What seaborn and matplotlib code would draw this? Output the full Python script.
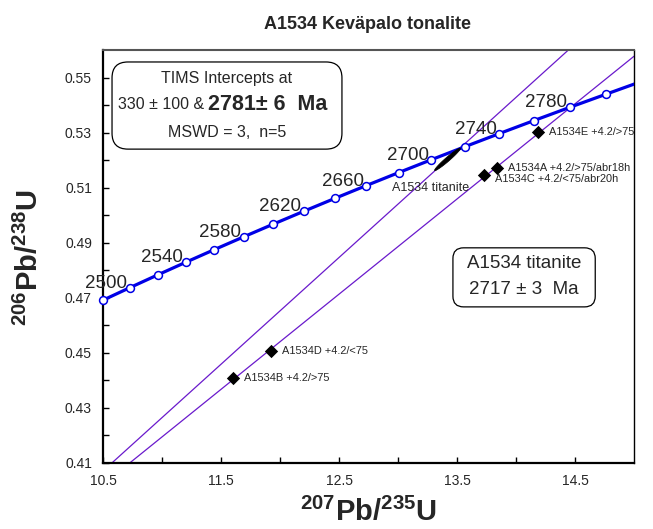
import numpy as np
import pandas as pd
import matplotlib
matplotlib.use("Agg")
import matplotlib.pyplot as plt
import seaborn as sns
from matplotlib.patches import FancyBboxPatch, Polygon
from matplotlib.ticker import FixedLocator

# --- Concordia (ages in Ma, with their 207Pb/235U and 206Pb/238U ratios) ---
conc_age = [2480, 2500, 2520, 2540, 2560, 2580, 2600, 2620, 2640,
            2660, 2680, 2700, 2720, 2740, 2760, 2780, 2800]
conc_207_235 = [10.5009, 10.7297, 10.9631, 11.2010, 11.4438, 11.6913,
                11.9437, 12.2012, 12.4638, 12.7316, 13.0048, 13.2834,
                13.5675, 13.8573, 14.1528, 14.4542, 14.7617]
conc_206_238 = [0.46916, 0.47373, 0.47831, 0.48290, 0.48751, 0.49213,
                0.49677, 0.50142, 0.50609, 0.51077, 0.51546, 0.52017,
                0.52489, 0.52963, 0.53438, 0.53915, 0.54393]
# curve continues past the last age tick (2820 Ma)
tail_207_235 = [15.0752]
tail_206_238 = [0.54876]
labelled_ages = [2500, 2540, 2580, 2620, 2660, 2700, 2740, 2780]

# --- Zircon fractions (TIMS) ---
frac_label = ["A1534A +4.2/>75/abr18h", "A1534B +4.2/>75",
              "A1534C +4.2/<75/abr20h", "A1534D +4.2/<75",
              "A1534E +4.2/>75/ Cabr"]
frac_207_235 = [13.836, 11.602, 13.732, 11.921, 14.189]
frac_206_238 = [0.5172, 0.4409, 0.5147, 0.4508, 0.5301]

# --- Titanite analysis: ratios, 2-sigma errors and error correlation ---
tit_207_235, tit_206_238 = 13.42, 0.5203
tit_err_207, tit_err_206, tit_rho = 0.11, 0.0041, 0.97

# --- Discordia: lower & upper intercepts 330 Ma and 2781 Ma ---
disc_x = [0.38403, 14.4695]
disc_y = [0.05252, 0.53939]
# Reference line from the origin through the titanite
ref_x = [0.0, tit_207_235]
ref_y = [0.0, tit_206_238]

x_ticks = [10.5, 11.5, 12.5, 13.5, 14.5]
y_ticks = [0.41, 0.43, 0.45, 0.47, 0.49, 0.51, 0.53, 0.55]

sns.set_theme(style="white")
plt.rcParams["font.family"] = ["Liberation Sans", "DejaVu Sans"]
plt.rcParams["mathtext.fontset"] = "custom"
plt.rcParams["mathtext.rm"] = "Liberation Sans"
plt.rcParams["mathtext.bf"] = "Liberation Sans:bold"

BLUE = "#0000e6"
PURPLE = "#6a1acc"

fig = plt.figure(figsize=(6.53, 5.29), dpi=100)
ax = fig.add_axes([103 / 653, 66 / 529, 531 / 653, 413 / 529])
ax.set_xlim(10.5, 15.0)
ax.set_ylim(0.41, 0.56)

# discordia lines
ax.axline((disc_x[0], disc_y[0]), (disc_x[1], disc_y[1]), color=PURPLE, lw=0.9, zorder=2)
ax.axline((ref_x[0], ref_y[0]), (ref_x[1], ref_y[1]), color=PURPLE, lw=0.9, zorder=2)

# concordia curve with age markers
curve = pd.DataFrame({"x": conc_207_235 + tail_207_235,
                      "y": conc_206_238 + tail_206_238})
sns.lineplot(data=curve, x="x", y="y", sort=False, color=BLUE, lw=2.3,
             ax=ax, zorder=3)
ticks = pd.DataFrame({"age": conc_age, "x": conc_207_235, "y": conc_206_238})
sns.scatterplot(data=ticks, x="x", y="y", marker="o", s=32, color="white",
                edgecolor=BLUE, linewidth=1.1, ax=ax, zorder=4, clip_on=False)
for age, x, y in zip(conc_age, conc_207_235, conc_206_238):
    if age in labelled_ages:
        ax.annotate(str(age), (x, y), xytext=(-2, 0), textcoords="offset points",
                    ha="right", va="baseline", fontsize=13.5, zorder=4)

# titanite error ellipse
t = np.linspace(0, 2 * np.pi, 200)
ex = tit_207_235 + tit_err_207 * np.cos(t)
ey = tit_206_238 + tit_err_206 * (tit_rho * np.cos(t) + np.sqrt(1 - tit_rho ** 2) * np.sin(t))
ax.add_patch(Polygon(np.column_stack([ex, ey]), closed=True, fc="black",
                     ec="black", lw=0.5, zorder=3))
ax.annotate("A1534 titanite", (tit_207_235, tit_206_238), xytext=(-40, -21),
            textcoords="offset points", ha="left", va="center", fontsize=9)

# zircon fractions
fr = pd.DataFrame({"label": frac_label, "x": frac_207_235, "y": frac_206_238})
sns.scatterplot(data=fr, x="x", y="y", marker="D", s=46, color="black",
                linewidth=0, ax=ax, zorder=5)
for lab, x, y in zip(frac_label, frac_207_235, frac_206_238):
    dy = -3 if lab.startswith("A1534C") else 0
    clipped = lab.startswith("A1534E")
    ax.annotate(lab, (x, y), xytext=(8, dy), textcoords="offset points",
                ha="left", va="center", fontsize=7.9, annotation_clip=False,
                clip_on=clipped, zorder=5)

# result boxes
asp = 531 / 413
ax.add_patch(FancyBboxPatch((0.017, 0.760), 0.433, 0.211,
                            boxstyle="round,pad=0,rounding_size=0.03",
                            mutation_aspect=asp, transform=ax.transAxes,
                            fc="white", ec="black", lw=0.9, zorder=6))
ax.text(0.233, 0.930, "TIMS Intercepts at", transform=ax.transAxes,
        ha="center", va="center", fontsize=11.5, zorder=7)
ax.text(0.190, 0.869, "330 ± 100 &", transform=ax.transAxes,
        ha="right", va="center", fontsize=11.5, zorder=7)
ax.text(0.198, 0.869, "2781± 6  Ma", transform=ax.transAxes,
        ha="left", va="center", fontsize=15.5, fontweight="bold", zorder=7)
ax.text(0.233, 0.800, "MSWD = 3,  n=5", transform=ax.transAxes,
        ha="center", va="center", fontsize=11.5, zorder=7)

ax.add_patch(FancyBboxPatch((0.659, 0.378), 0.268, 0.143,
                            boxstyle="round,pad=0,rounding_size=0.02",
                            mutation_aspect=asp, transform=ax.transAxes,
                            fc="white", ec="black", lw=0.9, zorder=6))
ax.text(0.793, 0.482, "A1534 titanite", transform=ax.transAxes,
        ha="center", va="center", fontsize=13.5, zorder=7)
ax.text(0.793, 0.419, "2717 ± 3  Ma", transform=ax.transAxes,
        ha="center", va="center", fontsize=13.5, zorder=7)

# axes styling
ax.xaxis.set_major_locator(FixedLocator(x_ticks))
ax.xaxis.set_minor_locator(FixedLocator([11.0, 12.0, 13.0, 14.0]))
ax.yaxis.set_major_locator(FixedLocator(y_ticks))
ax.yaxis.set_minor_locator(FixedLocator([0.42, 0.44, 0.46, 0.48, 0.50, 0.52, 0.54]))
ax.set_xticklabels([f"{v:.1f}" for v in x_ticks])
ax.set_yticklabels([f"{v:.2f}" for v in y_ticks])
ax.tick_params(which="both", direction="in", length=4, width=1, color="black",
               labelsize=10, bottom=True, left=True)
ax.tick_params(axis="y", pad=8)
ax.tick_params(axis="x", pad=8)
ax.set_xlabel("")
ax.set_ylabel("")
for side, lw, col in [("left", 1.6, "black"), ("bottom", 1.6, "black"),
                      ("top", 1.5, "#555555"), ("right", 1.0, "black")]:
    ax.spines[side].set_visible(True)
    ax.spines[side].set_linewidth(lw)
    ax.spines[side].set_color(col)

fig.text(368 / 653, 1 - 29 / 529, "A1534 Keväpalo tonalite", ha="center",
         va="baseline", fontsize=13, fontweight="bold")
fig.text(368 / 653, 1 - 512 / 529, r"$^{\mathbf{207}}\mathbf{Pb/}^{\mathbf{235}}\mathbf{U}$",
         ha="center", va="center", fontsize=21)
fig.text(29 / 653, 1 - 258 / 529, r"$^{\mathbf{206}}\mathbf{Pb/}^{\mathbf{238}}\mathbf{U}$",
         ha="center", va="center", rotation=90, fontsize=21)

fig.savefig("out.png", dpi=100)
